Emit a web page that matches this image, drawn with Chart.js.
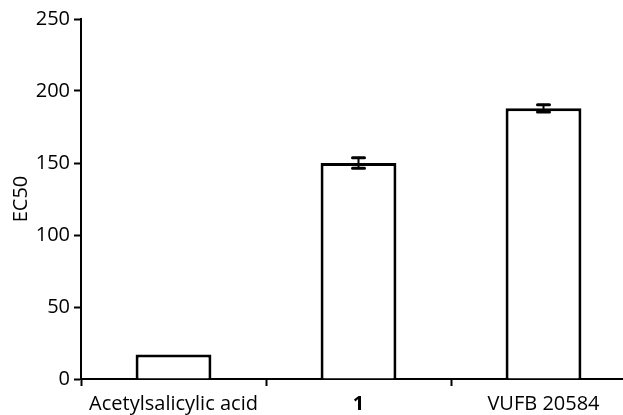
<!DOCTYPE html>
<html>
<head>
<meta charset="utf-8">
<script src="https://cdn.jsdelivr.net/npm/chart.js@4/dist/chart.umd.min.js"></script>
<style>
    html, body { margin: 0; padding: 0; background: #fff; overflow: hidden; }
    #wrap { width: 640px; height: 415px; }
</style>
</head>
<body>
<div id="wrap"><canvas id="chart" width="640" height="415"></canvas></div>
<script>
const categories = ["Acetylsalicylic acid", "1", "VUFB 20584"];
const ec50Values = [17, 150, 188];
const ec50Errors = [0, 3.7, 2.5];
const yTicks = [0, 50, 100, 150, 200, 250];

const FONT = "'Open Sans', 'DejaVu Sans', sans-serif";

// draws the error bars over each bar
const errorBarPlugin = {
    id: "errorBars",
    afterDatasetsDraw(chart) {
        const ctx = chart.ctx;
        const meta = chart.getDatasetMeta(0);
        const yScale = chart.scales.y;
        ctx.save();
        ctx.strokeStyle = "#000";
        ctx.lineCap = "round";
        meta.data.forEach((bar, i) => {
            const err = ec50Errors[i];
            if (!err) return;
            const yHigh = yScale.getPixelForValue(ec50Values[i] + err);
            const yLow = yScale.getPixelForValue(ec50Values[i] - err);
            ctx.lineWidth = 2;
            ctx.beginPath();
            ctx.moveTo(bar.x, yHigh);
            ctx.lineTo(bar.x, yLow);
            ctx.stroke();
            ctx.lineWidth = 3;
            ctx.beginPath();
            ctx.moveTo(bar.x - 6, yHigh);
            ctx.lineTo(bar.x + 6, yHigh);
            ctx.moveTo(bar.x - 6, yLow);
            ctx.lineTo(bar.x + 6, yLow);
            ctx.stroke();
        });
        ctx.restore();
    }
};

new Chart(document.getElementById("chart").getContext("2d"), {
    type: "bar",
    data: {
        labels: categories,
        datasets: [{
            data: ec50Values,
            backgroundColor: "#fff",
            borderColor: "#000",
            borderWidth: 3,
            borderSkipped: "bottom",
            barPercentage: 0.41,
            categoryPercentage: 1
        }]
    },
    options: {
        responsive: false,
        animation: false,
        layout: { padding: { top: 19, right: 4, left: 0, bottom: 0 } },
        plugins: {
            legend: { display: false },
            tooltip: { enabled: false }
        },
        scales: {
            x: {
                grid: {
                    offset: true,
                    drawOnChartArea: false,
                    drawTicks: true,
                    tickLength: 7,
                    tickWidth: 2,
                    color: "#000"
                },
                border: { color: "#000", width: 2 },
                ticks: {
                    color: "#000",
                    padding: 6,
                    maxRotation: 0,
                    font: c => ({ family: FONT, size: 20, weight: c.index === 1 ? "bold" : "normal" })
                },
                afterFit: scale => { scale.height = 36; }
            },
            y: {
                min: 0,
                max: 250,
                afterBuildTicks: scale => { scale.ticks = yTicks.map(v => ({ value: v })); },
                grid: {
                    drawOnChartArea: false,
                    drawTicks: true,
                    tickLength: 7,
                    tickWidth: 2,
                    color: "#000"
                },
                border: { color: "#000", width: 2 },
                ticks: {
                    color: "#000",
                    padding: 4,
                    font: { family: FONT, size: 20 }
                },
                title: {
                    display: true,
                    text: "EC50",
                    color: "#000",
                    padding: { top: 9, bottom: 0 },
                    font: { family: FONT, size: 20 }
                },
                afterFit: scale => { scale.width = 81; }
            }
        }
    },
    plugins: [errorBarPlugin]
});
</script>
</body>
</html>
